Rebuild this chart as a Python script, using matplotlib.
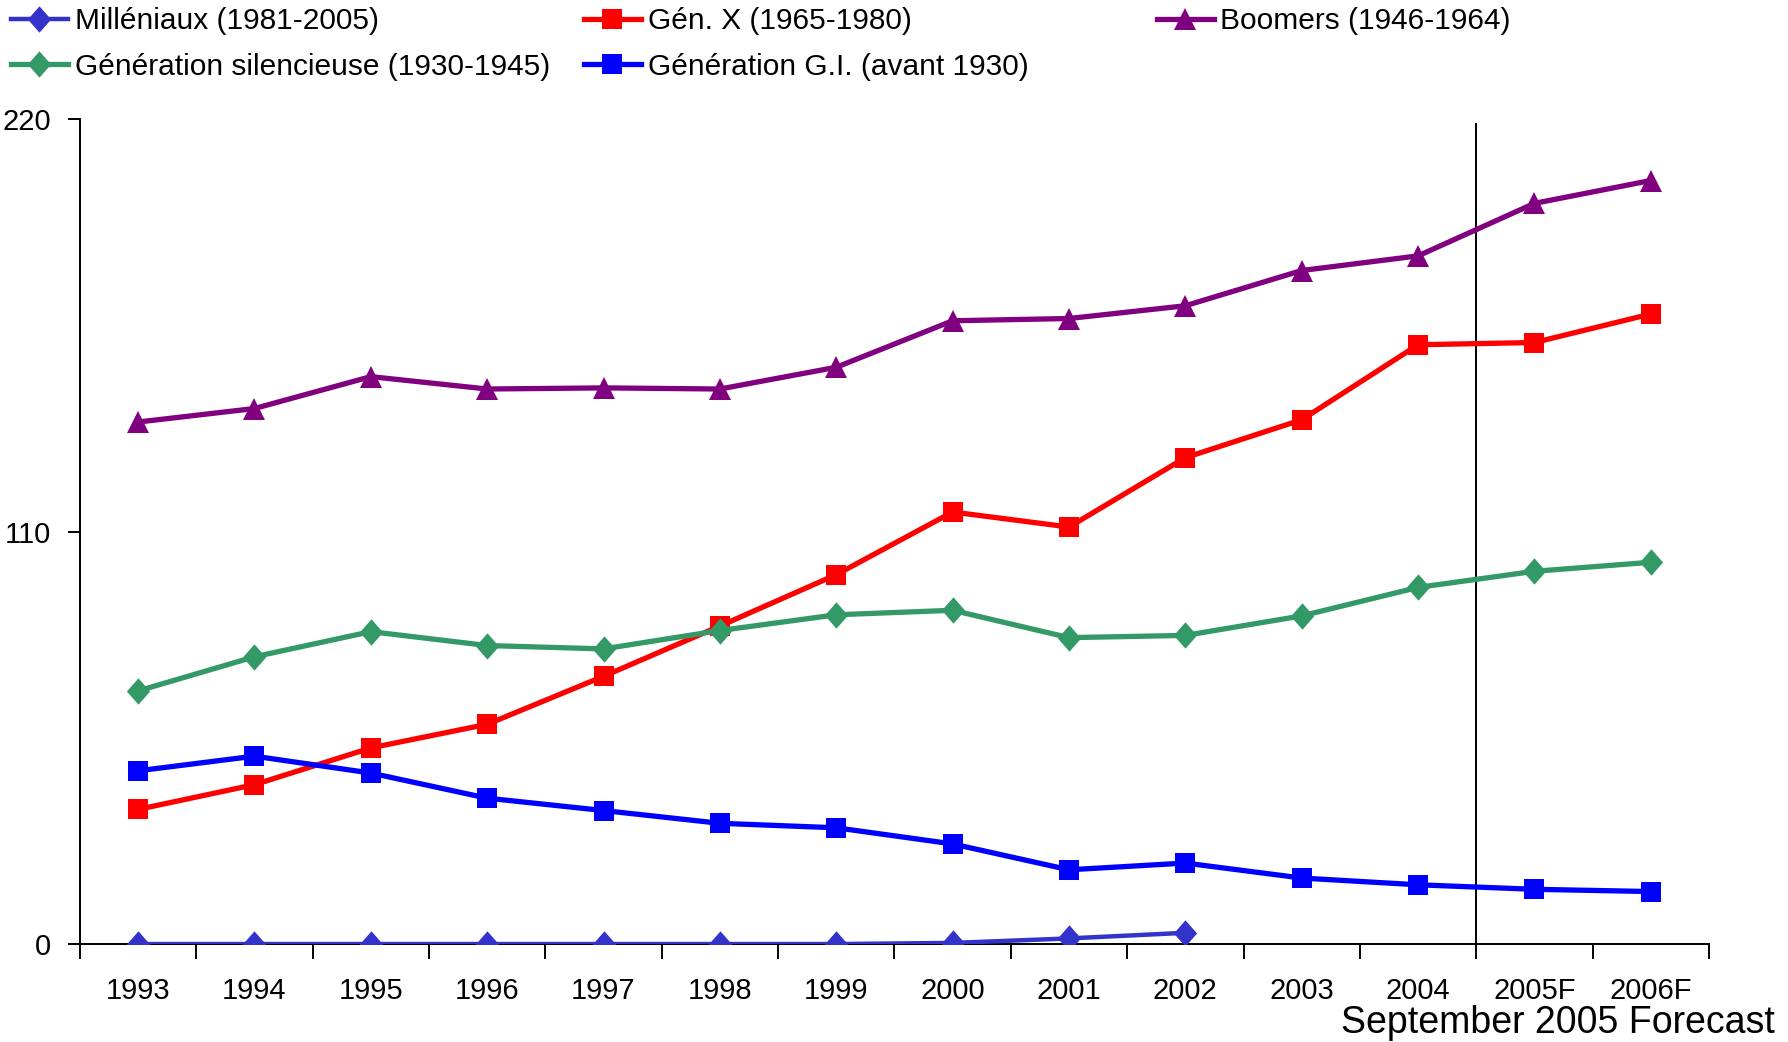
import matplotlib
matplotlib.use("Agg")
import matplotlib.pyplot as plt
import numpy as np

plt.rcParams['font.family'] = ['Liberation Sans', 'DejaVu Sans']

categories = ["1993", "1994", "1995", "1996", "1997", "1998", "1999",
              "2000", "2001", "2002", "2003", "2004", "2005F", "2006F"]
millennials = [0, 0, 0, 0, 0, 0, 0, 0.3, 1.5, 3.0]
gen_x = [35.9, 42.5, 52.3, 58.6, 71.4, 84.8, 98.5, 115.2, 111.2, 129.7,
         139.8, 159.8, 160.4, 168.0]
boomers = [139.2, 142.8, 151.3, 148.0, 148.3, 148.0, 153.8, 166.2, 166.8,
           170.2, 179.6, 183.5, 197.5, 203.6]
silent = [67.5, 76.6, 83.3, 79.6, 78.7, 83.6, 87.8, 89.0, 81.7, 82.3,
          87.5, 95.1, 99.4, 101.8]
gi = [46.2, 50.1, 45.6, 38.9, 35.6, 32.2, 31.0, 26.7, 19.8, 21.6,
      17.6, 15.8, 14.6, 14.0]
labels = ["Milléniaux (1981-2005)", "Gén. X (1965-1980)", "Boomers (1946-1964)",
          "Génération silencieuse (1930-1945)", "Génération G.I. (avant 1930)"]
yticks = [0, 110, 220]
forecast_split = 11.5
forecast_label = "September 2005 Forecast"

fig = plt.figure(figsize=(17.88, 10.42), dpi=100)
ax = fig.add_axes([0.0447, 0.0940, 0.9111, 0.7918])

diamond = [(0, 1), (0.88, 0), (0, -1), (-0.88, 0), (0, 1)]
x = np.arange(len(categories))
styles = [
    (millennials, '#3333CC', diamond, 19, 3.2),
    (gen_x, '#FF0000', 's', 14, 3.8),
    (boomers, '#800080', '^', 16.5, 3.8),
    (silent, '#339966', diamond, 19, 3.8),
    (gi, '#0000FF', 's', 15, 3.8),
]
handles = []
for (vals, c, m, ms, lw), lab in zip(styles, labels):
    h, = ax.plot(x[:len(vals)], vals, color=c, marker=m, markersize=ms,
                 linewidth=lw, markeredgewidth=0, label=lab, zorder=3)
    handles.append(h)

ax.vlines(forecast_split, 0, 219, color='black', linewidth=1.4, zorder=2)

ax.set_xlim(-0.5, len(categories) - 0.5)
ax.set_ylim(0, 220)
ax.set_yticks(yticks)
ax.set_yticklabels([str(v) for v in yticks], fontsize=21)
ax.set_xticks(np.arange(len(categories) + 1) - 0.5)
ax.set_xticklabels([])
ax.set_xticks(x, minor=True)
ax.set_xticklabels(categories, minor=True, fontsize=21)
ax.tick_params(axis='x', which='major', length=11, width=1.4, direction='out')
ax.tick_params(axis='x', which='minor', length=0, pad=24)
ax.tick_params(axis='y', length=9, width=1.4, pad=12)
for s in ['top', 'right']:
    ax.spines[s].set_visible(False)
for s in ['left', 'bottom']:
    ax.spines[s].set_linewidth(1.4)

fig.text(0.9927, 0.009, forecast_label, ha='right', va='baseline', fontsize=27)

cols = [[0, 3], [1, 4], [2]]
xpos = [0.0062, 0.3266, 0.647]
for idx, xp in zip(cols, xpos):
    leg = fig.legend([handles[i] for i in idx], [labels[i] for i in idx],
                     loc='upper left', bbox_to_anchor=(xp, 0.993), frameon=False,
                     fontsize=21.5, handlelength=1.9, handletextpad=0.23,
                     labelspacing=0.58, borderaxespad=0, borderpad=0)

fig.savefig("out.png", dpi=100)
